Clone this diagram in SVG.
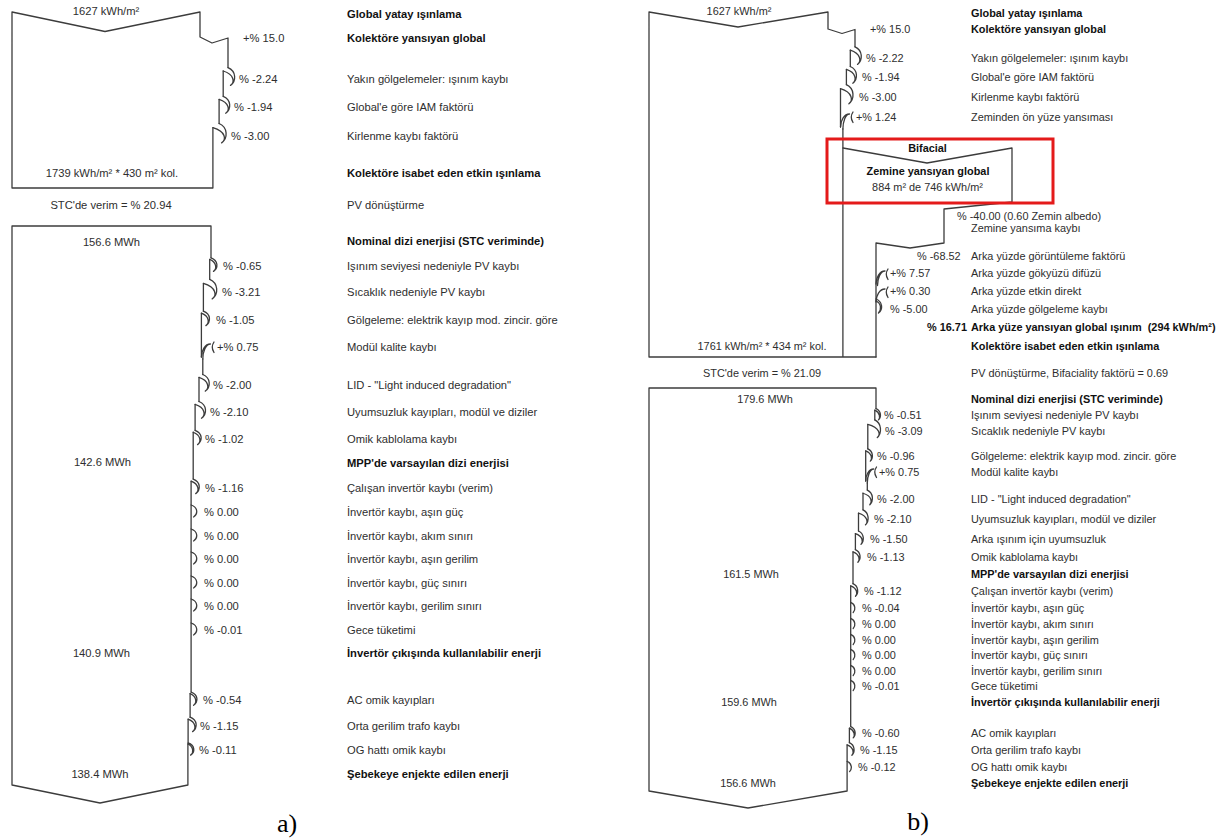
<svg xmlns="http://www.w3.org/2000/svg" width="1221" height="839" viewBox="0 0 1221 839">
<style>
.ln{fill:none;stroke:#3c3c3c;stroke-width:1.3;stroke-linejoin:round;stroke-linecap:round}
.t{font-family:"Liberation Sans",Arial,sans-serif;fill:#2e2e2e}
.L{font-size:11.2px}
.R{font-size:10.9px}
.b{font-weight:bold;fill:#111}
.m{text-anchor:middle}
.cap{font-family:"Liberation Serif","Times New Roman",serif;font-size:26px;fill:#000}
</style>
<rect width="1221" height="839" fill="#fff"/>

<!-- ===== Diagram a) ===== -->
<g id="a-irradiation">
<path class="ln" d="M12,12 L105,31.5 L200,12 V37 L212,43 L228,38 V67.6 M223.2,71 V96.3 M219.1,99.35 V123.5 M212.9,127.6 V188 H12 V12"/>
<text class="t L m" x="106" y="15">1627 kWh/m²</text>
<text class="t L m" x="112" y="177">1739 kWh/m² * 430 m² kol.</text>
</g>
<g id="a-efficiency"><text class="t L m" x="111" y="209">STC'de verim = % 20.94</text></g>
<g id="a-energy">
<path class="ln" d="M12,226 H211 V257.8 M209.7,259.45 V279.3 M203.4,283.45 V311.2 M201.4,313.2 V357 M202.8,359 V374.5 M199,377.4 V401.5 M195.1,404.45 V430.3 M193.2,432.25 V479.1 M191.1,481.15 V692.1 M190.1,693.6 V717.2 M188.1,719.2 V742.9 M187.9,744 V785 L100,803 L12,785 V226"/>
<text class="t L m" x="111.5" y="246">156.6 MWh</text>
<text class="t L m" x="102.5" y="466">142.6 MWh</text>
<text class="t L m" x="101.5" y="657">140.9 MWh</text>
<text class="t L m" x="100" y="778">138.4 MWh</text>
</g>
<g id="a-connectors" class="ln">
<path d="M228,67.6 c8.4,3.6 8.4,13.4 2.5,17.8 M223.2,71 c11.5,3.6 11.5,11.5 7.3,14.4"/>
<path d="M223.2,96.3 c8.2,3.4 8.2,12.7 2.5,16.9 M219.1,99.35 c10.7,3.5 10.7,11.1 6.6,13.85"/>
<path d="M219.1,123.5 c8.9,3.9 8.9,14.6 2.5,19.4 M212.9,127.6 c13.3,3.8 13.3,12.2 8.7,15.3"/>
<path d="M211,257.8 c7.4,2.7 7.4,10.2 2.5,13.6 M209.7,259.45 c7.2,3 7.2,9.6 3.8,11.95"/>
<path d="M209.7,279.3 c8.9,3.9 8.9,14.7 2.5,19.6 M203.4,283.45 c13.4,3.9 13.4,12.4 8.8,15.45"/>
<path d="M203.4,311.2 c7.6,2.9 7.6,10.8 2.5,14.4 M201.4,313.2 c8.1,3.1 8.1,9.9 4.5,12.4"/>
<path d="M201.4,357 c0,-6.5 3.6,-13 9,-13 M202.8,359 c0,-7.5 3,-15 7.6,-15 M214,342 q-3.5,5 0,10.5"/>
<path d="M202.8,374.5 c8.1,3.3 8.1,12.5 2.5,16.6 M199,377.4 c10.3,3.4 10.3,11 6.3,13.7"/>
<path d="M199,401.5 c8.2,3.3 8.2,12.5 2.5,16.7 M195.1,404.45 c10.5,3.4 10.5,11 6.4,13.75"/>
<path d="M195.1,430.3 c7.6,2.9 7.6,10.7 2.5,14.3 M193.2,432.25 c8,3.1 8,9.9 4.4,12.35"/>
<path d="M193.2,479.1 c7.6,2.9 7.6,10.9 2.5,14.5 M191.1,481.15 c8.2,3.1 8.2,10 4.6,12.45"/>
<path d="M191.1,505 c7,2.4 7,9 2.5,12 M191.1,529 c7,2.4 7,9 2.5,12 M191.1,552 c7,2.4 7,9 2.5,12 M191.1,576 c7,2.4 7,9 2.5,12 M191.1,599 c7,2.4 7,9 2.5,12 M191.1,623 c7,2.4 7,9 2.5,12"/>
<path d="M191.1,692.1 c7.3,2.6 7.3,9.9 2.5,13.2 M190.1,693.6 c6.8,2.9 6.8,9.4 3.5,11.7"/>
<path d="M190.1,717.2 c7.6,2.9 7.6,10.8 2.5,14.4 M188.1,719.2 c8.1,3.1 8.1,9.9 4.5,12.4"/>
<path d="M188.1,742.9 c7.1,2.4 7.1,9.2 2.5,12.2 M187.9,744 c5.9,2.8 5.9,8.9 2.7,11.1"/>
</g>
<g id="a-values" class="t L">
<text x="243" y="42">+% 15.0</text>
<text x="239" y="83">% -2.24</text>
<text x="234" y="111">% -1.94</text>
<text x="231" y="140">% -3.00</text>
<text x="223" y="270">% -0.65</text>
<text x="222" y="296">% -3.21</text>
<text x="216" y="324">% -1.05</text>
<text x="217" y="351">+% 0.75</text>
<text x="213" y="389">% -2.00</text>
<text x="210" y="416">% -2.10</text>
<text x="205" y="443">% -1.02</text>
<text x="205" y="492">% -1.16</text>
<text x="204" y="516">% 0.00</text>
<text x="204" y="540">% 0.00</text>
<text x="204" y="563">% 0.00</text>
<text x="204" y="587">% 0.00</text>
<text x="204" y="610">% 0.00</text>
<text x="204" y="634">% -0.01</text>
<text x="203" y="704">% -0.54</text>
<text x="200" y="730">% -1.15</text>
<text x="199" y="754">% -0.11</text>
</g>
<g id="a-labels" class="t L">
<text class="b" x="347" y="18">Global yatay ışınlama</text>
<text class="b" x="347" y="42">Kolektöre yansıyan global</text>
<text x="347" y="83">Yakın gölgelemeler: ışınım kaybı</text>
<text x="347" y="111">Global'e göre IAM faktörü</text>
<text x="347" y="140">Kirlenme kaybı faktörü</text>
<text class="b" x="347" y="177">Kolektöre isabet eden etkin ışınlama</text>
<text x="347" y="209">PV dönüştürme</text>
<text class="b" x="347" y="245">Nominal dizi enerjisi (STC veriminde)</text>
<text x="347" y="270">Işınım seviyesi nedeniyle PV kaybı</text>
<text x="347" y="296">Sıcaklık nedeniyle PV kaybı</text>
<text x="347" y="324">Gölgeleme: elektrik kayıp mod. zincir. göre</text>
<text x="347" y="351">Modül kalite kaybı</text>
<text x="347" y="389">LID - "Light induced degradation"</text>
<text x="347" y="416">Uyumsuzluk kayıpları, modül ve diziler</text>
<text x="347" y="443">Omik kablolama kaybı</text>
<text class="b" x="347" y="467">MPP'de varsayılan dizi enerjisi</text>
<text x="347" y="492">Çalışan invertör kaybı (verim)</text>
<text x="347" y="516">İnvertör kaybı, aşın güç</text>
<text x="347" y="540">İnvertör kaybı, akım sınırı</text>
<text x="347" y="563">İnvertör kaybı, aşın gerilim</text>
<text x="347" y="587">İnvertör kaybı, güç sınırı</text>
<text x="347" y="610">İnvertör kaybı, gerilim sınırı</text>
<text x="347" y="634">Gece tüketimi</text>
<text class="b" x="347" y="657">İnvertör çıkışında kullanılabilir enerji</text>
<text x="347" y="704">AC omik kayıpları</text>
<text x="347" y="730">Orta gerilim trafo kaybı</text>
<text x="347" y="754">OG hattı omik kaybı</text>
<text class="b" x="347" y="778">Şebekeye enjekte edilen enerji</text>
</g>
<text class="cap m" x="287" y="832">a)</text>

<!-- ===== Diagram b) ===== -->
<g id="b-irradiation">
<path class="ln" d="M649,12 L738,27 L828,12 V29 L842,33.5 L855,29.5 V46.8 M850.3,50.15 V66.5 M846.4,69.45 V84.7 M840.5,88.65 V127 M842.9,129 V357 M649,12 V357 H876"/>
<text class="t R m" x="739" y="15">1627 kWh/m²</text>
<text class="t R m" x="762" y="350">1761 kWh/m² * 434 m² kol.</text>
</g>
<g id="b-bifacial">
<path class="ln" d="M843,148 L927,163 L1012,148 V202 L944,209 V243 L910,248 L876,243 V357"/>
<rect x="827" y="139" width="226" height="64" fill="none" stroke="#e41a1a" stroke-width="3"/>
<text class="t R b m" x="927.5" y="152">Bifacial</text>
<text class="t R b m" x="928" y="175">Zemine yansıyan global</text>
<text class="t R m" x="927.5" y="191">884 m² de 746 kWh/m²</text>
</g>
<g id="b-efficiency"><text class="t R m" x="762" y="377">STC'de verim = % 21.09</text></g>
<g id="b-energy">
<path class="ln" d="M649,388 H876 V408.6 M874.8,410.2 V419.9 M867.8,424.4 V448.8 M865.7,450.85 V481 M867.3,483 V490.1 M863,493.25 V509.85 M858.5,513.1 V531 M855.4,533.55 V549.6 M853,551.8 V583.7 M850.7,585.85 V726.6 M849.4,728.2 V742.7 M847.1,744.85 V791 L748,808 L649,791 V388"/>
<text class="t R m" x="765" y="403">179.6 MWh</text>
<text class="t R m" x="751" y="578">161.5 MWh</text>
<text class="t R m" x="749" y="706">159.6 MWh</text>
<text class="t R m" x="748" y="787">156.6 MWh</text>
</g>
<g id="b-connectors" class="ln">
<path d="M855,46.8 c7.9,3.5 7.9,13.2 2.5,17.6 M850.3,50.15 c11,3.6 11,11.4 7.2,14.25"/>
<path d="M850.3,66.5 c7.7,3.3 7.7,12.5 2.5,16.7 M846.4,69.45 c10.1,3.4 10.1,11 6.4,13.75"/>
<path d="M846.4,84.7 c8.3,3.8 8.3,14.3 2.5,19.1 M840.5,88.65 c12.5,3.8 12.5,12.1 8.4,15.15"/>
<path d="M840.5,127 c0,-6.5 3.6,-13 9,-13 M842.9,129 c0,-7.5 2.6,-15 6.6,-15 M853,112 q-3.5,5 0,10.5"/>
<path d="M876,284 c0,-6.5 3.6,-13 9,-13 M877.5,285.5 c0,-7 2.8,-14.5 7.5,-14.5 M888,269 q-3.5,5 0,10.5"/>
<path d="M876,302 c0,-6.5 3.6,-13 9,-13 M888,287 q-3.5,5 0,10.5"/>
<path d="M876,299 c7,2.8 7,10.5 2.5,14 M876,301 c5.5,2.4 5.5,9 2.5,12"/>
<path d="M876,408.6 c5.4,2.3 5.4,8.5 2.5,11.3 M874.8,410.2 c5.5,2.4 5.5,7.8 3.7,9.7"/>
<path d="M874.8,419.9 c7.1,3.5 7.1,13.3 2.5,17.7 M867.8,424.4 c12.7,3.3 12.7,10.6 9.5,13.2"/>
<path d="M867.8,448.8 c5.6,2.5 5.6,9.2 2.5,12.3 M865.7,450.85 c6.6,2.6 6.6,8.2 4.6,10.25"/>
<path d="M865.7,481 c0,-6 3.2,-12 8,-12 M867.3,483 c0,-7 2.6,-14 6.4,-14 M876.5,467 q-3.5,5 0,10.5"/>
<path d="M867.3,490.1 c6.3,2.9 6.3,11 2.5,14.7 M863,493.25 c9.3,2.9 9.3,9.2 6.8,11.55"/>
<path d="M863,509.85 c6.35,3 6.35,11.25 2.5,15 M858.5,513.1 c9.6,2.9 9.6,9.4 7,11.75"/>
<path d="M858.5,531 c5.9,2.7 5.9,10 2.5,13.4 M855.4,533.55 c7.8,2.7 7.8,8.7 5.6,10.85"/>
<path d="M855.4,549.6 c5.7,2.5 5.7,9.5 2.5,12.6 M853,551.8 c7,2.6 7,8.3 4.9,10.4"/>
<path d="M853,583.7 c5.7,2.5 5.7,9.4 2.5,12.5 M850.7,585.85 c6.9,2.6 6.9,8.3 4.8,10.35"/>
<path d="M850.7,602.4 c5,2 5,7.6 2.5,10.1 M850.7,618.4 c5,2 5,7.6 2.5,10.1 M850.7,634.4 c5,2 5,7.6 2.5,10.1 M850.7,649.4 c5,2 5,7.6 2.5,10.1 M850.7,665.4 c5,2 5,7.6 2.5,10.1 M850.7,680.4 c5,2 5,7.6 2.5,10.1"/>
<path d="M850.7,726.6 c5.4,2.3 5.4,8.5 2.5,11.3 M849.4,728.2 c5.6,2.4 5.6,7.8 3.8,9.7"/>
<path d="M849.4,742.7 c5.7,2.5 5.7,9.4 2.5,12.5 M847.1,744.85 c6.9,2.6 6.9,8.3 4.8,10.35"/>
<path d="M847.1,761.4 c5.1,2 5.1,7.7 2.5,10.2"/>
</g>
<g id="b-values" class="t R">
<text x="870" y="33">+% 15.0</text>
<text x="866" y="62">% -2.22</text>
<text x="862" y="81">% -1.94</text>
<text x="859" y="101">% -3.00</text>
<text x="856" y="121">+% 1.24</text>
<text x="957" y="220">% -40.00 (0.60 Zemin albedo)</text>
<text x="917" y="260">% -68.52</text>
<text x="890" y="277">+% 7.57</text>
<text x="890" y="295">+% 0.30</text>
<text x="890" y="313">% -5.00</text>
<text class="b" x="927" y="331">% 16.71</text>
<text x="884" y="419">% -0.51</text>
<text x="885" y="435">% -3.09</text>
<text x="877" y="460">% -0.96</text>
<text x="879" y="476">+% 0.75</text>
<text x="877" y="503">% -2.00</text>
<text x="874" y="523">% -2.10</text>
<text x="870" y="543">% -1.50</text>
<text x="867" y="561">% -1.13</text>
<text x="864" y="595">% -1.12</text>
<text x="862" y="612">% -0.04</text>
<text x="862" y="628">% 0.00</text>
<text x="862" y="644">% 0.00</text>
<text x="862" y="659">% 0.00</text>
<text x="862" y="675">% 0.00</text>
<text x="862" y="690">% -0.01</text>
<text x="862" y="737">% -0.60</text>
<text x="860" y="754">% -1.15</text>
<text x="858" y="771">% -0.12</text>
</g>
<g id="b-labels" class="t R">
<text class="b" x="971" y="17">Global yatay ışınlama</text>
<text class="b" x="971" y="33">Kolektöre yansıyan global</text>
<text x="971" y="62">Yakın gölgelemeler: ışınım kaybı</text>
<text x="971" y="81">Global'e göre IAM faktörü</text>
<text x="971" y="101">Kirlenme kaybı faktörü</text>
<text x="971" y="121">Zeminden ön yüze yansıması</text>
<text x="971" y="232">Zemine yansıma kaybı</text>
<text x="971" y="260">Arka yüzde görüntüleme faktörü</text>
<text x="971" y="277">Arka yüzde gökyüzü difüzü</text>
<text x="971" y="295">Arka yüzde etkin direkt</text>
<text x="971" y="313">Arka yüzde gölgeleme kaybı</text>
<text class="b" x="971" y="331" xml:space="preserve">Arka yüze yansıyan global ışınım  (294 kWh/m²)</text>
<text class="b" x="971" y="350">Kolektöre isabet eden etkin ışınlama</text>
<text x="971" y="377">PV dönüştürme, Bifaciality faktörü = 0.69</text>
<text class="b" x="971" y="403">Nominal dizi enerjisi (STC veriminde)</text>
<text x="971" y="419">Işınım seviyesi nedeniyle PV kaybı</text>
<text x="971" y="435">Sıcaklık nedeniyle PV kaybı</text>
<text x="971" y="460">Gölgeleme: elektrik kayıp mod. zincir. göre</text>
<text x="971" y="476">Modül kalite kaybı</text>
<text x="971" y="503">LID - "Light induced degradation"</text>
<text x="971" y="523">Uyumsuzluk kayıpları, modül ve diziler</text>
<text x="971" y="543">Arka ışınım için uyumsuzluk</text>
<text x="971" y="561">Omik kablolama kaybı</text>
<text class="b" x="971" y="578">MPP'de varsayılan dizi enerjisi</text>
<text x="971" y="595">Çalışan invertör kaybı (verim)</text>
<text x="971" y="612">İnvertör kaybı, aşın güç</text>
<text x="971" y="628">İnvertör kaybı, akım sınırı</text>
<text x="971" y="644">İnvertör kaybı, aşın gerilim</text>
<text x="971" y="659">İnvertör kaybı, güç sınırı</text>
<text x="971" y="675">İnvertör kaybı, gerilim sınırı</text>
<text x="971" y="690">Gece tüketimi</text>
<text class="b" x="971" y="706">İnvertör çıkışında kullanılabilir enerji</text>
<text x="971" y="737">AC omik kayıpları</text>
<text x="971" y="754">Orta gerilim trafo kaybı</text>
<text x="971" y="771">OG hattı omik kaybı</text>
<text class="b" x="971" y="787">Şebekeye enjekte edilen enerji</text>
</g>
<text class="cap m" x="918" y="830">b)</text>
</svg>
